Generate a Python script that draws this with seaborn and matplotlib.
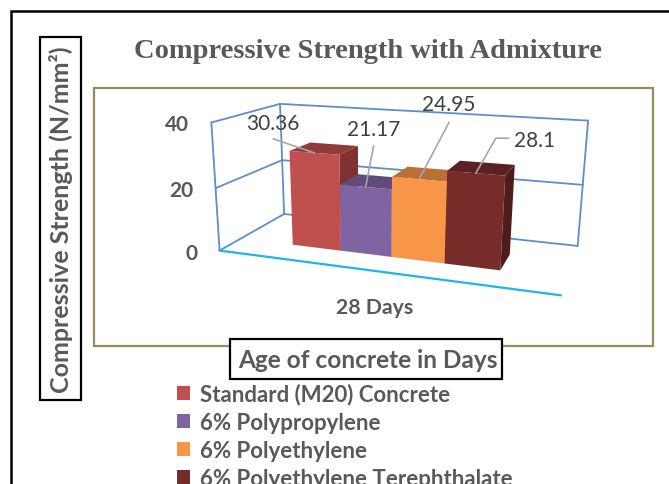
import matplotlib
matplotlib.use("Agg")
import matplotlib.pyplot as plt
from matplotlib.patches import Patch, Polygon, Rectangle
import numpy as np
import pandas as pd
import seaborn as sns

# chart values
age_group = ["28 Days"]
materials = ["Standard (M20) Concrete", "6% Polypropylene", "6% Polyethylene", "6% Polyethylene Terephthalate"]
strength = [30.36, 21.17, 24.95, 28.1]
value_labels = ["30.36", "21.17", "24.95", "28.1"]
value_ticks = [0, 20, 40]

# colours: front face, top face, side face
front_colors = ["#C0504D", "#8064A2", "#F79646", "#772C2A"]
top_colors = ["#8E3B39", "#614B7C", "#B96F35", "#5A2120"]
side_colors = ["#7F3331", "#564270", "#A6622E", "#4E1C1B"]
wall_color = "#5B8FCB"
floor_color = "#1FB4EC"
text_color = "#595959"
olive = "#968C5A"

sns.set_theme(style="white")
plt.rcParams["font.family"] = ["Lato", "DejaVu Sans"]

fig = plt.figure(figsize=(6.69, 4.85), dpi=100)

# seaborn does the bar layout on a hidden axes, faces are projected from it afterwards
ax_bars = fig.add_axes([0.2, 0.2, 0.6, 0.6])
df = pd.DataFrame({"age": age_group * len(materials), "material": materials, "strength": strength})
sns.barplot(data=df, x="age", y="strength", hue="material", palette=front_colors,
            width=0.64, legend=False, ax=ax_bars)
ax_bars.set_xlim(-0.5, 0.5)
ax_bars.set_ylim(value_ticks[0], value_ticks[-1])
ax_bars.set_visible(False)

# pixel canvas for the picture
ax = fig.add_axes([0, 0, 1, 1])
ax.set_xlim(0, 669)
ax.set_ylim(485, 0)
ax.axis("off")

# perspective camera fitted on the corners of the 3d box: (across, depth, height) -> pixel
box_world = np.array([[0, 0, 0], [1, 0, 0], [0, 1, 0], [1, 1, 0],
                      [0, 0, 1], [1, 0, 1], [0, 1, 1], [1, 1, 1],
                      [0, 0, .5], [0, 1, .5], [1, 1, .5]], dtype=float)
box_pixel = np.array([[219.3, 251], [560, 295.7], [284.3, 215.7], [579, 247.7],
                      [210.7, 123.3], [574, 150], [280.7, 105], [587.3, 120],
                      [216, 188.3], [281.7, 161.7], [581.7, 185]])


def fit_camera(world, pixel):
    rows = []
    for (a, b, c), (px, py) in zip(world, pixel):
        rows.append([a, b, c, 1, 0, 0, 0, 0, -px * a, -px * b, -px * c, -px])
        rows.append([0, 0, 0, 0, a, b, c, 1, -py * a, -py * b, -py * c, -py])
    return np.linalg.svd(np.array(rows))[2][-1].reshape(3, 4)


camera = fit_camera(box_world, box_pixel)


def project(u, d, v):
    p = camera @ np.array([u, d, v, 1.0])
    return p[0] / p[2], p[1] / p[2]


def wall_line(a, b, color=wall_color, lw=1.3):
    pts = np.array([project(*a), project(*b)])
    ax.plot(pts[:, 0], pts[:, 1], color=color, lw=lw, solid_capstyle="round", zorder=1)


# back and left walls
for tick in value_ticks:
    v = ax_bars.transLimits.transform((0, tick))[1]
    wall_line((0, 0, v), (0, 1, v))
    wall_line((0, 1, v), (1, 1, v))
    x0, y0 = project(0, 0, v)
    ax.text(x0 - 22, y0 + 2 - 1 * v, str(tick), ha="right", va="center", fontsize=15,
            fontweight="bold", color=text_color)
wall_line((0, 0, 0), (0, 0, 1))
wall_line((0, 1, 0), (0, 1, 1))
wall_line((1, 1, 0), (1, 1, 1))
wall_line((0, 0, 0), (1, 0, 0), color=floor_color, lw=1.6)

# bars, left to right so each front covers the side of the one before
depth_front, depth_back = 0.30, 0.64
tops = []
for i, bar in enumerate(ax_bars.patches):
    left, v0 = ax_bars.transLimits.transform((bar.get_x(), 0))
    right, v1 = ax_bars.transLimits.transform((bar.get_x() + bar.get_width(), bar.get_height()))
    side = [project(right, depth_front, v0), project(right, depth_back, v0),
            project(right, depth_back, v1), project(right, depth_front, v1)]
    top = [project(left, depth_front, v1), project(left, depth_back, v1),
           project(right, depth_back, v1), project(right, depth_front, v1)]
    front = [project(left, depth_front, v0), project(right, depth_front, v0),
             project(right, depth_front, v1), project(left, depth_front, v1)]
    ax.add_patch(Polygon(side, color=side_colors[i], lw=0, zorder=2 + i))
    ax.add_patch(Polygon(top, color=top_colors[i], lw=0, zorder=2 + i))
    ax.add_patch(Polygon(front, color=front_colors[i], lw=0, zorder=2 + i))
    tops.append(project((left + right) / 2, depth_front, v1))

# data labels with their leader lines
label_offset = [(-41, -30), (8, -58), (30, -75), (59, -33)]
leader_offset = [(-41, -14), (8, -41), (30, -57), (20, -35)]
leader_color = "#A6A6A6"
for i, (tx, ty) in enumerate(tops):
    lx, ly = tx + leader_offset[i][0], ty + leader_offset[i][1]
    xs, ys = [tx, lx], [ty, ly]
    if i == 3:
        xs.append(lx + 13)
        ys.append(ly)
    ax.plot(xs, ys, color=leader_color, lw=1.2, zorder=10)
    ax.text(tx + label_offset[i][0], ty + label_offset[i][1], value_labels[i], ha="center", va="center",
            fontsize=15, color="#404040", zorder=11)

ax.text(375, 308, age_group[0], ha="center", va="center", fontsize=15.3, fontweight="bold", color=text_color)

# frames
ax.add_patch(Rectangle((94, 89), 559, 258, fill=False, ec=olive, lw=1.6, zorder=0))
ax.plot([11, 11, 669], [485, 12, 12], color="black", lw=1.8, solid_joinstyle="miter", zorder=0)
ax.add_patch(Rectangle((40, 38), 41, 363, fc="white", ec="black", lw=1.6, zorder=12))
ax.add_patch(Rectangle((229.5, 340), 272, 40, fc="white", ec="black", lw=1.6, zorder=12))

ax.text(368, 52, "Compressive Strength with Admixture", ha="center", va="center", fontsize=20.5,
        fontweight="bold", family=["Liberation Serif"], color=text_color)
ax.text(61, 220, "Compressive Strength (N/mm²)", rotation=90, ha="center", va="center", fontsize=18,
        fontweight="bold", color=text_color, zorder=13)
ax.text(368, 361, "Age of concrete in Days", ha="center", va="center", fontsize=17.6,
        fontweight="bold", color=text_color, zorder=13)

# legend runs off the bottom like the reference
handles = [Patch(color=c, lw=0) for c in front_colors]
ax.legend(handles, materials, loc="upper left", bbox_to_anchor=(177, 384), bbox_transform=ax.transData,
          frameon=False, ncol=1, handlelength=0.6, handleheight=0.6, handletextpad=0.42,
          labelspacing=0.32, prop={"family": ["Lato"], "weight": "bold", "size": 16},
          labelcolor=text_color, borderpad=0.0, borderaxespad=0.0)

fig.savefig("out.png", dpi=100)
